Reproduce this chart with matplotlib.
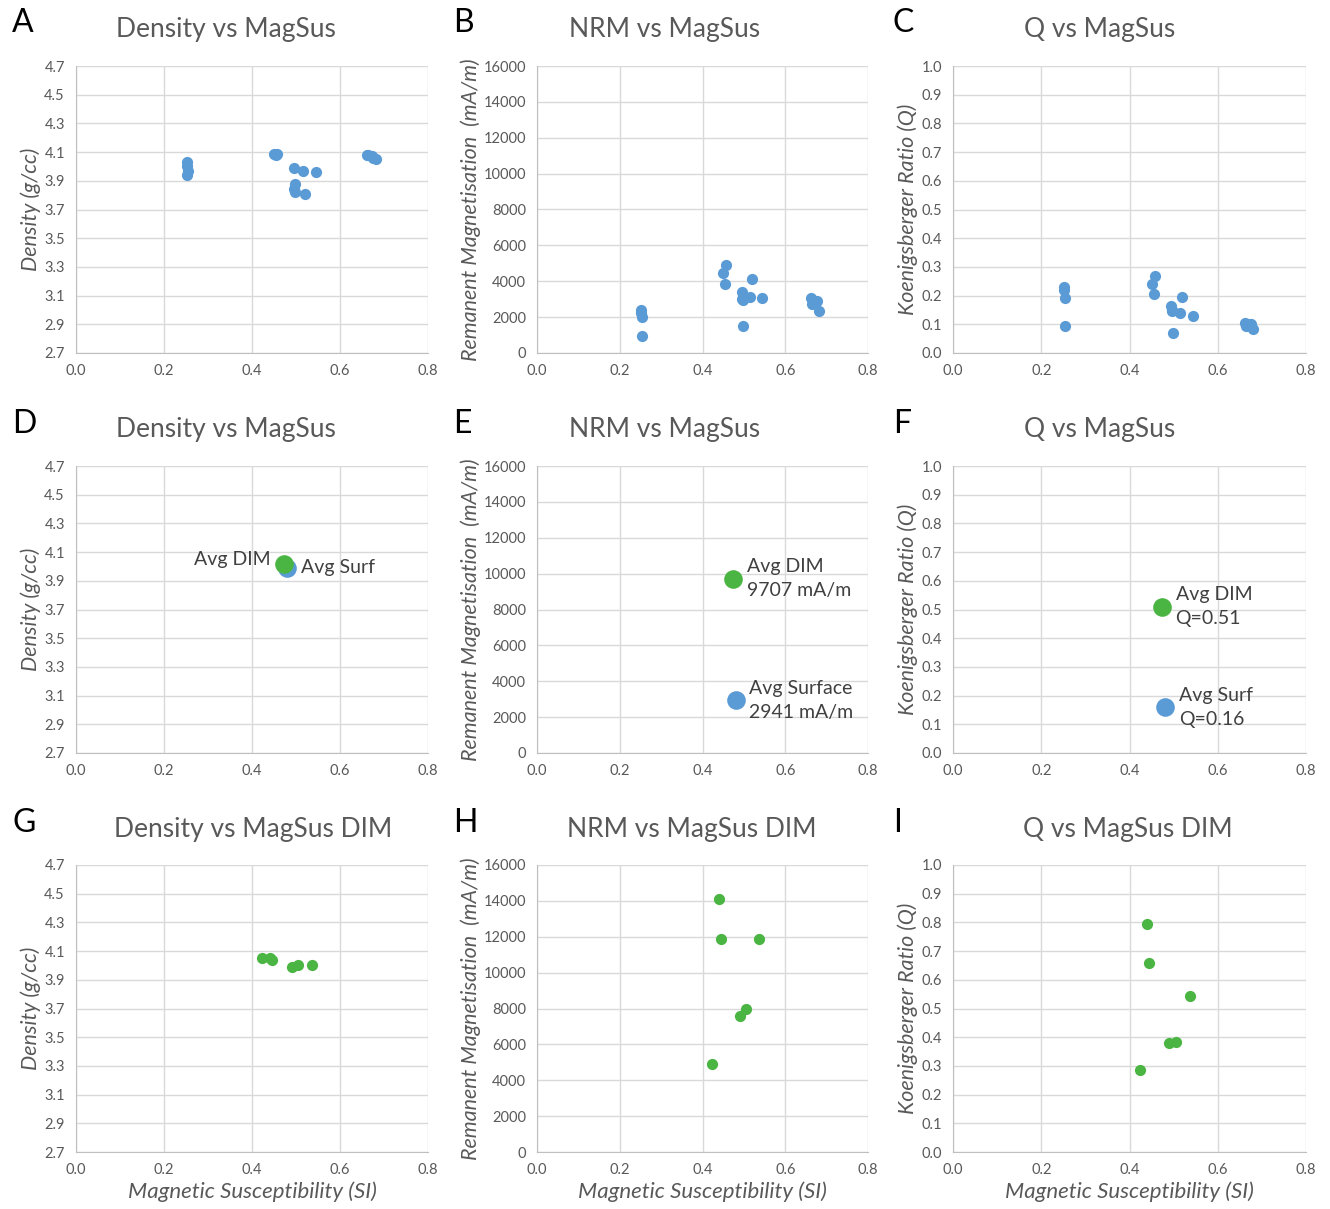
import matplotlib
matplotlib.use("Agg")
import matplotlib.pyplot as plt

plt.rcParams['font.family'] = ['Lato', 'DejaVu Sans']

# surface samples (blue)
surf_sus = [0.252, 0.252, 0.254, 0.253, 0.450, 0.455, 0.457, 0.495, 0.497, 0.496, 0.498,
            0.515, 0.520, 0.545, 0.662, 0.664, 0.672, 0.676, 0.681]
surf_dens = [4.03, 4.00, 3.97, 3.94, 4.09, 4.08, 4.09, 3.99, 3.88, 3.84, 3.82,
             3.97, 3.81, 3.96, 4.08, 4.08, 4.07, 4.06, 4.05]
surf_nrm = [2400, 2250, 2000, 950, 4450, 3850, 4900, 3400, 2950, 3000, 1500,
            3100, 4150, 3050, 3050, 2750, 2800, 2900, 2350]
surf_q = [0.23, 0.22, 0.19, 0.095, 0.24, 0.205, 0.27, 0.165, 0.145, 0.15, 0.07,
          0.14, 0.195, 0.13, 0.105, 0.095, 0.10, 0.10, 0.085]

# DIM samples (green)
dim_sus = [0.423, 0.440, 0.445, 0.490, 0.505, 0.537]
dim_dens = [4.05, 4.05, 4.04, 3.99, 4.00, 4.00]
dim_nrm = [4900, 14100, 11850, 7600, 7950, 11850]
dim_q = [0.285, 0.795, 0.66, 0.38, 0.385, 0.545]

# averages
avg_dim_sus, avg_surf_sus = 0.473, 0.480
avg_dim = {'dens': 4.02, 'nrm': 9707, 'q': 0.51}
avg_surf = {'dens': 3.99, 'nrm': 2941, 'q': 0.16}

BLUE = '#5B9BD5'
GREEN = '#4BB543'
GREY = '#595959'
GRID = '#D9D9D9'

W, H = 1330, 1209
fig = plt.figure(figsize=(W / 100, H / 100), dpi=100)


def px_axes(l, r, t, b):
    return fig.add_axes([l / W, 1 - b / H, (r - l) / W, (b - t) / H])


ykinds = {
    'dens': dict(lim=(2.7, 4.7), ticks=[2.7 + 0.2 * i for i in range(11)], fmt='%.1f',
                 label='Density (g/cc)'),
    'nrm': dict(lim=(0, 16000), ticks=list(range(0, 16001, 2000)), fmt='%d',
                label='Remanent Magnetisation  (mA/m)'),
    'q': dict(lim=(0, 1.0), ticks=[0.1 * i for i in range(11)], fmt='%.1f',
              label='Koenigsberger Ratio (Q)'),
}

cols = [(76, 428), (537, 868), (953, 1306)]
rows = [(66, 353), (466, 753), (865, 1152)]
title_x = [[226, 665, 1100], [226, 665, 1100], [253, 692, 1128]]
title_y = [29, 430, 829]
letter_x = [12, 453, 893]
titles = [['Density vs MagSus', 'NRM vs MagSus', 'Q vs MagSus'],
          ['Density vs MagSus', 'NRM vs MagSus', 'Q vs MagSus'],
          ['Density vs MagSus DIM', 'NRM vs MagSus DIM', 'Q vs MagSus DIM']]
letters = [['A', 'B', 'C'], ['D', 'E', 'F'], ['G', 'H', 'I']]
kinds = ['dens', 'nrm', 'q']
surf_vals = {'dens': surf_dens, 'nrm': surf_nrm, 'q': surf_q}
dim_vals = {'dens': dim_dens, 'nrm': dim_nrm, 'q': dim_q}

for ri, (t, b) in enumerate(rows):
    for ci, (l, r) in enumerate(cols):
        k = kinds[ci]
        spec = ykinds[k]
        ax = px_axes(l, r, t, b)
        ax.set_xlim(0, 0.8)
        ax.set_ylim(*spec['lim'])
        ax.set_xticks([0, 0.2, 0.4, 0.6, 0.8])
        ax.set_xticklabels(['%.1f' % v for v in [0, 0.2, 0.4, 0.6, 0.8]])
        ax.set_yticks(spec['ticks'])
        ax.set_yticklabels([spec['fmt'] % v for v in spec['ticks']])
        ax.tick_params(length=0, labelsize=10.5, labelcolor=GREY, pad=8)
        ax.grid(True, color=GRID, linewidth=1.0)
        ax.set_axisbelow(True)
        for s in ['top', 'right']:
            ax.spines[s].set_visible(False)
        for s in ['left', 'bottom']:
            ax.spines[s].set_color('#BFBFBF')
        ax.set_ylabel(spec['label'], fontsize=15.5, style='italic', color=GREY, labelpad=2)
        if ri == 2:
            ax.set_xlabel('Magnetic Susceptibility (SI)', fontsize=16, style='italic',
                          color=GREY, labelpad=3)

        if ri == 0:
            ax.scatter(surf_sus, surf_vals[k], s=65, color=BLUE, zorder=3, linewidths=0)
        elif ri == 2:
            ax.scatter(dim_sus, dim_vals[k], s=65, color=GREEN, zorder=3, linewidths=0)
        else:
            ax.scatter([avg_surf_sus], [avg_surf[k]], s=180, color=BLUE, zorder=3, linewidths=0)
            ax.scatter([avg_dim_sus], [avg_dim[k]], s=180, color=GREEN, zorder=4, linewidths=0)
            tkw = dict(fontsize=14, color='#404040', zorder=5)
            if k == 'dens':
                ax.annotate('Avg DIM', (avg_dim_sus, avg_dim[k]), xytext=(-10, 3),
                            textcoords='offset points', ha='right', va='center', **tkw)
                ax.annotate('Avg Surf', (avg_surf_sus, avg_surf[k]), xytext=(10, 0),
                            textcoords='offset points', ha='left', va='center', **tkw)
            elif k == 'nrm':
                ax.annotate('Avg DIM\n9707 mA/m', (avg_dim_sus, avg_dim[k]), xytext=(10, 0),
                            textcoords='offset points', ha='left', va='center',
                            linespacing=1.5, **tkw)
                ax.annotate('Avg Surface\n2941 mA/m', (avg_surf_sus, avg_surf[k]), xytext=(10, 0),
                            textcoords='offset points', ha='left', va='center',
                            linespacing=1.5, **tkw)
            else:
                ax.annotate('Avg DIM\nQ=0.51', (avg_dim_sus, avg_dim[k]), xytext=(10, 0),
                            textcoords='offset points', ha='left', va='center',
                            linespacing=1.5, **tkw)
                ax.annotate('Avg Surf\nQ=0.16', (avg_surf_sus, avg_surf[k]), xytext=(10, 0),
                            textcoords='offset points', ha='left', va='center',
                            linespacing=1.5, **tkw)

        fig.text(title_x[ri][ci] / W, 1 - title_y[ri] / H, titles[ri][ci], fontsize=19,
                 color=GREY, ha='center', va='center')
        fig.text(letter_x[ci] / W, 1 - (title_y[ri] - 6) / H, letters[ri][ci], fontsize=23,
                 color='black', ha='left', va='center')

fig.savefig('out.png', dpi=100, facecolor='white')
